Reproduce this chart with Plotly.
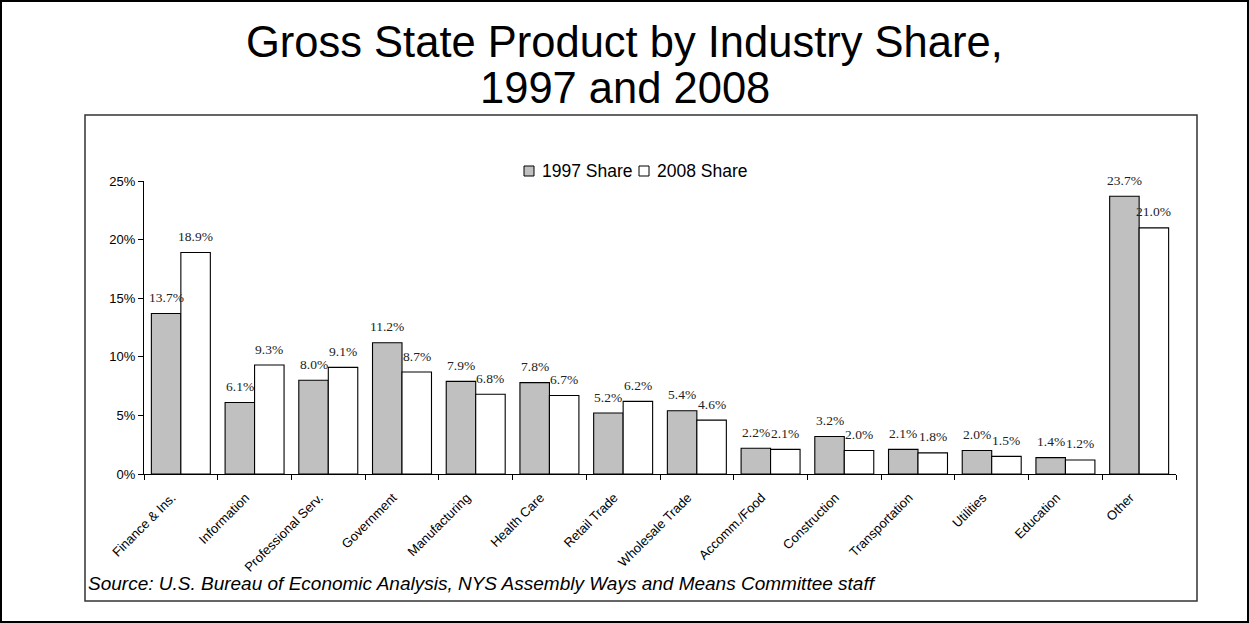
import plotly.graph_objects as go

categories = ["Finance & Ins.", "Information", "Professional Serv.", "Government",
              "Manufacturing", "Health Care", "Retail Trade", "Wholesale Trade",
              "Accomm./Food", "Construction", "Transportation", "Utilities",
              "Education", "Other"]
share_1997 = [13.7, 6.1, 8.0, 11.2, 7.9, 7.8, 5.2, 5.4, 2.2, 3.2, 2.1, 2.0, 1.4, 23.7]
share_2008 = [18.9, 9.3, 9.1, 8.7, 6.8, 6.7, 6.2, 4.6, 2.1, 2.0, 1.8, 1.5, 1.2, 21.0]
y_ticks = [0, 5, 10, 15, 20, 25]
y_tick_labels = ["0%", "5%", "10%", "15%", "20%", "25%"]
series_names = ["1997 Share", "2008 Share"]
series_colors = ["#C0C0C0", "#FFFFFF"]

W, H = 1249, 623
L, R, T, B = 144, 1176, 181, 474  # plot area in pixels


def px(x):
    return (x - L) / (R - L)


def py(y):
    return (B - y) / (B - T)


fig = go.Figure()
for name, vals, col in zip(series_names, [share_1997, share_2008], series_colors):
    fig.add_trace(go.Bar(
        x=categories, y=vals, name=name,
        marker=dict(color=col, line=dict(color="#000000", width=1.1)),
        showlegend=False,
    ))

annotations = []
# data labels
for si, vals in enumerate([share_1997, share_2008]):
    off = -0.2 if si == 0 else 0.2
    for i, v in enumerate(vals):
        annotations.append(dict(
            x=i + off, y=v, xref="x", yref="y", text=f"{v:.1f}%",
            showarrow=False, yanchor="middle", yshift=16,
            font=dict(family="Liberation Serif", size=13.5, color="#222222"),
        ))

# title
annotations.append(dict(x=px(624.5), xref="paper", y=py(42), yref="paper",
                        xanchor="center", yanchor="middle", showarrow=False,
                        text="Gross State Product by Industry Share,",
                        font=dict(family="Liberation Sans", size=43.5, color="#000000")))
annotations.append(dict(x=px(624.5), xref="paper", y=py(88), yref="paper",
                        xanchor="center", yanchor="middle", showarrow=False,
                        text="1997 and 2008",
                        font=dict(family="Liberation Sans", size=43.5, color="#000000")))
# source
annotations.append(dict(x=px(86), xref="paper", y=py(583), yref="paper",
                        xanchor="left", yanchor="middle", showarrow=False,
                        text="<i>Source: U.S. Bureau of Economic Analysis, NYS Assembly Ways and Means Committee staff</i>",
                        font=dict(family="Liberation Sans", size=19, color="#000000")))

# custom legend
shapes = []
legend_items = [(524, 540), (639, 655)]
for (sx, tx), name, col in zip(legend_items, series_names, series_colors):
    shapes.append(dict(type="rect", xref="paper", yref="paper",
                       x0=px(sx), x1=px(sx + 10), y0=py(176), y1=py(166),
                       fillcolor=col, line=dict(color="#000000", width=1)))
    annotations.append(dict(x=px(tx), xref="paper", y=py(171), yref="paper",
                            xanchor="left", yanchor="middle", showarrow=False,
                            text=name,
                            font=dict(family="Liberation Sans", size=17.5, color="#000000")))

# inner chart box and outer border
shapes.append(dict(type="rect", xref="paper", yref="paper",
                   x0=px(85), x1=px(1197), y0=py(601), y1=py(115),
                   line=dict(color="#333333", width=1.5), layer="below"))
shapes.append(dict(type="rect", xref="paper", yref="paper",
                   x0=px(1), x1=px(1248), y0=py(622), y1=py(1),
                   line=dict(color="#000000", width=2), layer="below"))

fig.update_layout(
    width=W, height=H,
    margin=dict(l=L, r=W - R, t=T, b=H - B, pad=0),
    paper_bgcolor="#FFFFFF", plot_bgcolor="#FFFFFF",
    barmode="group", bargap=0.2, bargroupgap=0,
    showlegend=False,
    annotations=annotations, shapes=shapes,
    font=dict(family="Liberation Sans", color="#000000"),
)
fig.update_xaxes(
    type="category", tickangle=-45, tickson="boundaries",
    ticks="outside", ticklen=5, tickcolor="#000000",
    showline=True, linecolor="#000000", linewidth=1,
    showgrid=False, zeroline=False, ticklabelstandoff=10, ticklabelshift=-9,
    tickfont=dict(family="Liberation Sans", size=13, color="#000000"),
)
fig.update_yaxes(
    range=[0, 25], tickvals=y_ticks, ticktext=y_tick_labels,
    ticks="outside", ticklen=5, tickcolor="#000000",
    showline=True, linecolor="#000000", linewidth=1,
    showgrid=False, zeroline=False,
    tickfont=dict(family="Liberation Sans", size=13, color="#000000"),
)

fig.write_html("out.html", config={"displayModeBar": False},
               post_script="document.body.style.margin='0';document.body.style.overflow='hidden';")
